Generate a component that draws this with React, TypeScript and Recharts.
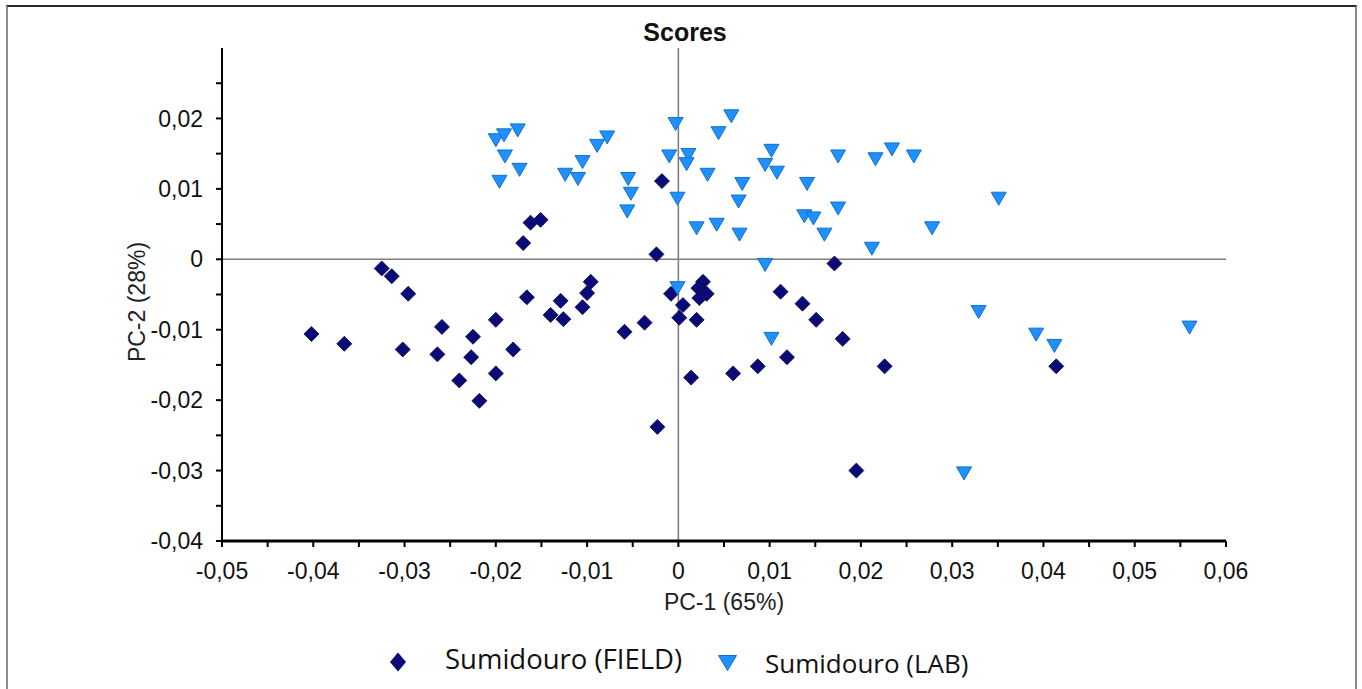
import React from 'react';
import { ScatterChart, Scatter, XAxis, YAxis, ReferenceLine, Label } from 'recharts';

// ---- data ----
const fieldPC1 = [
  -0.0018, -0.0162, -0.0151, -0.017, -0.0024, -0.0325, -0.0314, -0.0296, -0.0402, -0.0366,
  -0.0302, -0.0259, -0.0264, -0.0225, -0.0227, -0.024, -0.0218, -0.02, -0.0181, -0.02,
  -0.0166, -0.014, -0.0129, -0.0126, -0.0105, -0.01, -0.0096, -0.0059, -0.0037, -0.0023,
  -0.0008, 0.0171, 0.0027, 0.0022, 0.0031, 0.0023, 0.0005, 0.0001, 0.002, 0.0112,
  0.0136, 0.0151, 0.018, 0.0119, 0.0087, 0.006, 0.0014, 0.0226, 0.0414, 0.0195,
];
const fieldPC2 = [
  0.0111, 0.0052, 0.0056, 0.0023, 0.0007, -0.0013, -0.0024, -0.0049, -0.0106, -0.012,
  -0.0128, -0.0096, -0.0135, -0.011, -0.0139, -0.0172, -0.0201, -0.0086, -0.0128, -0.0162,
  -0.0054, -0.0079, -0.0059, -0.0085, -0.0068, -0.0048, -0.0032, -0.0103, -0.009, -0.0238,
  -0.0049, -0.0006, -0.0032, -0.0041, -0.0049, -0.0055, -0.0065, -0.0083, -0.0086, -0.0046,
  -0.0063, -0.0086, -0.0113, -0.0139, -0.0152, -0.0162, -0.0168, -0.0152, -0.0152, -0.03,
];
const labPC1 = [
  -0.02, -0.0191, -0.0176, -0.019, -0.0174, -0.0196, -0.0124, -0.0105, -0.011, -0.0089,
  -0.0078, -0.0055, -0.0052, -0.0056, -0.001, -0.0003, 0.0058, 0.0044, 0.0011, 0.0009,
  0.0032, 0.007, -0.0001, 0.0066, 0.002, 0.0042, 0.0067, 0.0102, 0.0095, 0.0108,
  0.0141, 0.0175, 0.0138, 0.0148, 0.0175, 0.016, 0.0212, 0.0216, 0.0234, 0.0258,
  0.0351, 0.0278, 0.0095, -0.0001, 0.0102, 0.0329, 0.0392, 0.0412, 0.0313, 0.056,
];
const labPC2 = [
  0.0169, 0.0176, 0.0183, 0.0146, 0.0127, 0.011, 0.012, 0.0138, 0.0114, 0.0161,
  0.0173, 0.0114, 0.0093, 0.0068, 0.0146, 0.0192, 0.0203, 0.0179, 0.0148, 0.0135,
  0.012, 0.0107, 0.0086, 0.0082, 0.0044, 0.0049, 0.0035, 0.0154, 0.0134, 0.0123,
  0.0107, 0.0146, 0.0061, 0.0058, 0.0072, 0.0035, 0.0015, 0.0142, 0.0156, 0.0146,
  0.0086, 0.0044, -0.0008, -0.0041, -0.0113, -0.0075, -0.0107, -0.0123, -0.0304, -0.0097,
];
const xTicks = [-0.05, -0.045, -0.04, -0.035, -0.03, -0.025, -0.02, -0.015, -0.01, -0.005, 0,
  0.005, 0.01, 0.015, 0.02, 0.025, 0.03, 0.035, 0.04, 0.045, 0.05, 0.055, 0.06];
const yTicks = [-0.04, -0.035, -0.03, -0.025, -0.02, -0.015, -0.01, -0.005, 0,
  0.005, 0.01, 0.015, 0.02, 0.025];
const seriesNames = ['Sumidouro (FIELD)', 'Sumidouro (LAB)'];
const chartTitle = 'Scores';
const xTitle = 'PC-1 (65%)';
const yTitle = 'PC-2 (28%)';

const fieldData = fieldPC1.map((x, i) => ({ x, y: fieldPC2[i] }));
const labData = labPC1.map((x, i) => ({ x, y: labPC2[i] }));

// ---- styling ----
const W = 1362;
const H = 689;
const PLOT_LEFT = 222;
const PLOT_RIGHT = 1226;
const PLOT_TOP = 48;
const PLOT_BOTTOM = 541;
const Y_AXIS_W = 60;
const X_AXIS_H = 30;
const FIELD_COLOR = '#0b0b78';
const LAB_COLOR = '#1e90ff';
const LAB_STROKE = '#1470c8';
const AXIS_FONT = '"Liberation Sans", Arial, sans-serif';

const fmt = (v: number) => {
  const r = Math.round(v * 1000);
  if (r % 10 !== 0) return '';
  if (r === 0) return '0';
  return (r / 1000).toFixed(2).replace('.', ',');
};

const Diamond = (p: any) => {
  const { cx, cy } = p;
  if (cx == null || cy == null) return null;
  const s = 7.5;
  return (
    <path
      d={`M${cx},${cy - s}L${cx + s},${cy}L${cx},${cy + s}L${cx - s},${cy}Z`}
      fill={FIELD_COLOR}
      stroke="#050550"
      strokeWidth={0.8}
    />
  );
};

const TriDown = (p: any) => {
  const { cx, cy } = p;
  if (cx == null || cy == null) return null;
  const w = 7.5;
  const h = 6.5;
  return (
    <path
      d={`M${cx - w},${cy - h}L${cx + w},${cy - h}L${cx},${cy + h}Z`}
      fill={LAB_COLOR}
      stroke={LAB_STROKE}
      strokeWidth={1}
    />
  );
};

const XTitle = () => (
  <text
    x={(PLOT_LEFT + PLOT_RIGHT) / 2}
    y={PLOT_BOTTOM + 69}
    textAnchor="middle"
    fontSize={23}
    fontFamily={AXIS_FONT}
    fill="#222"
  >
    {xTitle}
  </text>
);

const YTitle = () => {
  const cx = 137;
  const cy = 302;
  return (
    <text
      x={cx}
      y={cy}
      transform={`rotate(-90 ${cx} ${cy})`}
      textAnchor="middle"
      dominantBaseline="central"
      fontSize={23}
      fontFamily={AXIS_FONT}
      fill="#222"
    >
      {yTitle}
    </text>
  );
};

export default function App() {
  return (
    <div
      style={{
        position: 'absolute',
        left: 0,
        top: 0,
        width: W,
        height: H,
        overflow: 'hidden',
        background: '#fff',
      }}
    >
      <div
        style={{
          position: 'absolute',
          left: 6,
          top: 5,
          width: 1347,
          height: 720,
          borderTop: '2px solid #2a2a2a',
          borderLeft: '2px solid #8c8c8c',
          borderRight: '2px solid #8c8c8c',
        }}
      />
      <div style={{ position: 'absolute', left: 0, top: 0 }}>
        <ScatterChart
          width={W}
          height={H}
          margin={{
            top: PLOT_TOP,
            right: W - PLOT_RIGHT,
            bottom: H - PLOT_BOTTOM - X_AXIS_H,
            left: PLOT_LEFT - Y_AXIS_W,
          }}
        >
          <XAxis
            type="number"
            dataKey="x"
            domain={[-0.05, 0.06]}
            ticks={xTicks}
            interval={0}
            allowDataOverflow
            tickFormatter={fmt}
            height={X_AXIS_H}
            tickSize={6}
            tickMargin={16}
            tick={{ fill: '#111', fontSize: 23, fontFamily: AXIS_FONT }}
            axisLine={{ stroke: '#000', strokeWidth: 3 }}
            tickLine={{ stroke: '#000', strokeWidth: 2 }}
          >
            <Label value={xTitle} content={XTitle} />
          </XAxis>
          <YAxis
            type="number"
            dataKey="y"
            domain={[-0.04, 0.03]}
            ticks={yTicks}
            interval={0}
            allowDataOverflow
            tickFormatter={(v: number) => fmt(v)}
            width={Y_AXIS_W}
            tickSize={6}
            tickMargin={13}
            tick={{ fill: '#111', fontSize: 23, fontFamily: AXIS_FONT }}
            axisLine={{ stroke: '#000', strokeWidth: 2 }}
            tickLine={{ stroke: '#000', strokeWidth: 2 }}
          >
            <Label value={yTitle} content={YTitle} />
          </YAxis>
          <ReferenceLine x={0} stroke="#7f7f7f" strokeWidth={1.6} />
          <ReferenceLine y={0} stroke="#7f7f7f" strokeWidth={1.6} />
          <Scatter
            name={seriesNames[0]}
            data={fieldData}
            shape={Diamond}
            isAnimationActive={false}
          />
          <Scatter
            name={seriesNames[1]}
            data={labData}
            shape={TriDown}
            isAnimationActive={false}
          />
        </ScatterChart>
      </div>
      <div
        style={{
          position: 'absolute',
          left: 585,
          top: 17,
          width: 200,
          textAlign: 'center',
          fontFamily: AXIS_FONT,
          fontWeight: 'bold',
          fontSize: 25,
          lineHeight: '30px',
          color: '#111',
        }}
      >
        {chartTitle}
      </div>
      <svg
        style={{ position: 'absolute', left: 389, top: 652 }}
        width={18}
        height={20}
      >
        <path d="M9,0.5L17,10L9,19.5L1,10Z" fill={FIELD_COLOR} />
      </svg>
      <div
        style={{
          position: 'absolute',
          left: 445,
          top: 642,
          fontFamily: '"Open Sans", sans-serif',
          fontSize: 27.5,
          lineHeight: '34px',
          color: '#111',
          whiteSpace: 'nowrap',
        }}
      >
        {seriesNames[0]}
      </div>
      <svg
        style={{ position: 'absolute', left: 718, top: 655 }}
        width={19}
        height={16}
      >
        <path d="M0.5,0.5L18.5,0.5L9.5,15.5Z" fill={LAB_COLOR} stroke={LAB_STROKE} strokeWidth={1} />
      </svg>
      <div
        style={{
          position: 'absolute',
          left: 765,
          top: 646,
          fontFamily: '"Open Sans", sans-serif',
          fontSize: 26,
          lineHeight: '34px',
          color: '#111',
          whiteSpace: 'nowrap',
        }}
      >
        {seriesNames[1]}
      </div>
    </div>
  );
}
